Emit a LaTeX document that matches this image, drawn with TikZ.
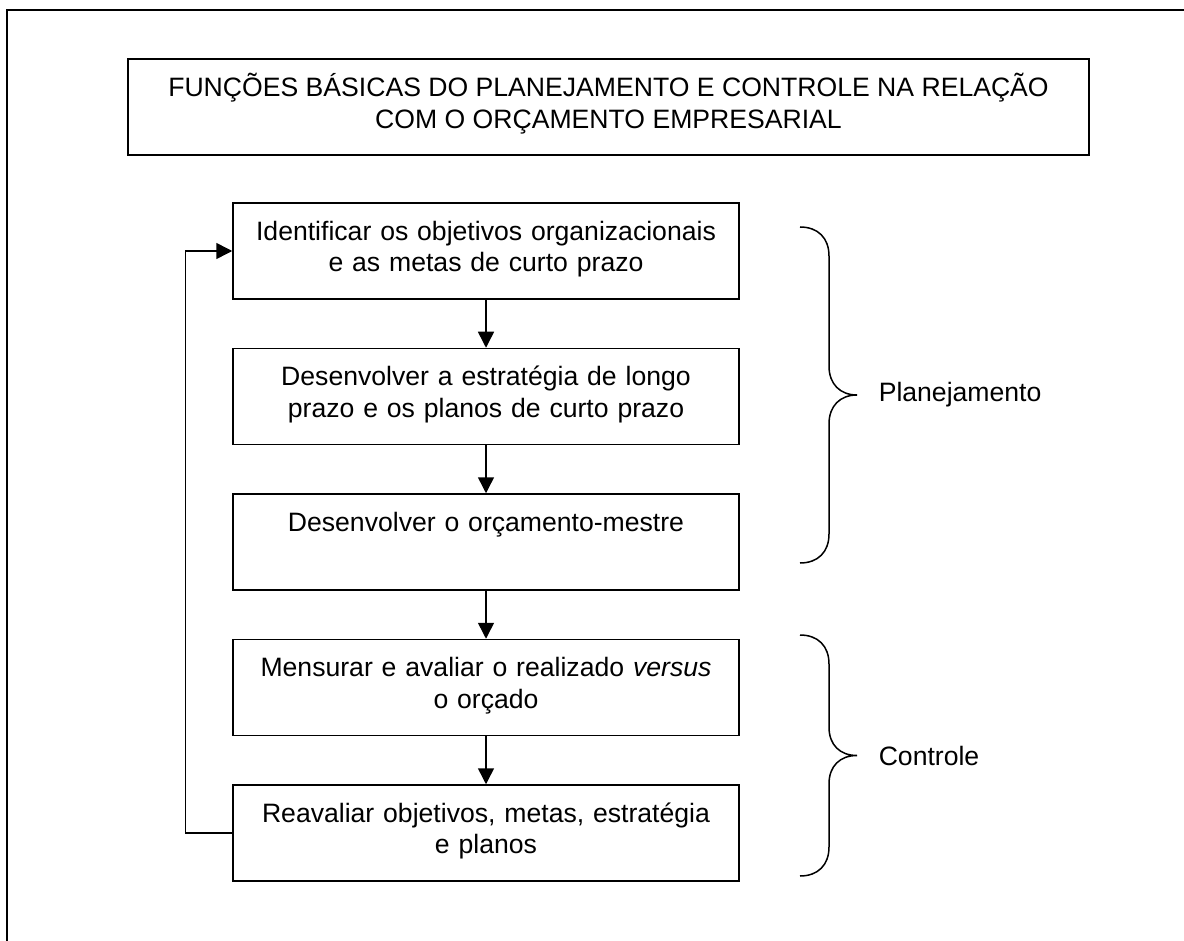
\documentclass[tikz,border=0pt]{standalone}
\usepackage{fontspec}
\setmainfont{Liberation Sans}
\usetikzlibrary{positioning,arrows.meta}

\begin{document}
\begin{tikzpicture}[x=1pt,y=-1pt,line width=1.5pt,
    font=\fontsize{26.6}{31.5}\selectfont,
    etapa/.style={draw,minimum width=506pt,minimum height=96pt,
	text width=470pt,align=center,inner sep=0pt,text depth=41pt},
    seta/.style={-{Triangle[length=16pt,width=16pt]}}]
\useasboundingbox (0,0) rectangle (1184,941);
\draw (7,941) -- (7,10) -- (1184,10);

\node[draw,minimum width=961pt,minimum height=96pt,align=center,
    text depth=12pt] (titulo)
    at (608.5,107) {FUNÇÕES BÁSICAS DO PLANEJAMENTO E CONTROLE NA RELAÇÃO\\
    COM O ORÇAMENTO EMPRESARIAL};

\node[etapa] (objetivos) at (486,251)
    {Identificar os objetivos organizacionais\\e as metas de curto prazo};
\node[etapa,below=48pt of objetivos] (estrategia)
    {Desenvolver a estratégia de longo\\prazo e os planos de curto prazo};
\node[etapa,below=48pt of estrategia] (mestre)
    {Desenvolver o orçamento-mestre\\\mbox{}};
\node[etapa,below=48pt of mestre] (mensurar)
    {Mensurar e avaliar o realizado \textit{versus}\\o orçado};
\node[etapa,below=48pt of mensurar] (reavaliar)
    {Reavaliar objetivos, metas, estratégia\\e planos};

\draw[seta] (objetivos) -- (estrategia);
\draw[seta] (estrategia) -- (mestre);
\draw[seta] (mestre) -- (mensurar);
\draw[seta] (mensurar) -- (reavaliar);
\draw[seta] (reavaliar.west) -- ++(-47,0) |- (objetivos.west);

% chaves
\draw (800,227) .. controls (818,227) and (829,238) .. (829,256) -- (829,366)
    .. controls (829,384) and (840,395) .. (857,395)
    .. controls (840,395) and (829,406) .. (829,424) -- (829,534)
    .. controls (829,552) and (818,563) .. (800,563);
\draw (800,635) .. controls (818,635) and (829,646) .. (829,664) -- (829,727)
    .. controls (829,745) and (840,755.5) .. (857,755.5)
    .. controls (840,755.5) and (829,766) .. (829,784) -- (829,847)
    .. controls (829,865) and (818,876) .. (800,876);

\node[anchor=west,inner sep=0pt] (planejamento) at (878,395) {Planejamento};
\node[anchor=west,inner sep=0pt] (controle) at (878,756) {Controle};
\end{tikzpicture}
\end{document}
